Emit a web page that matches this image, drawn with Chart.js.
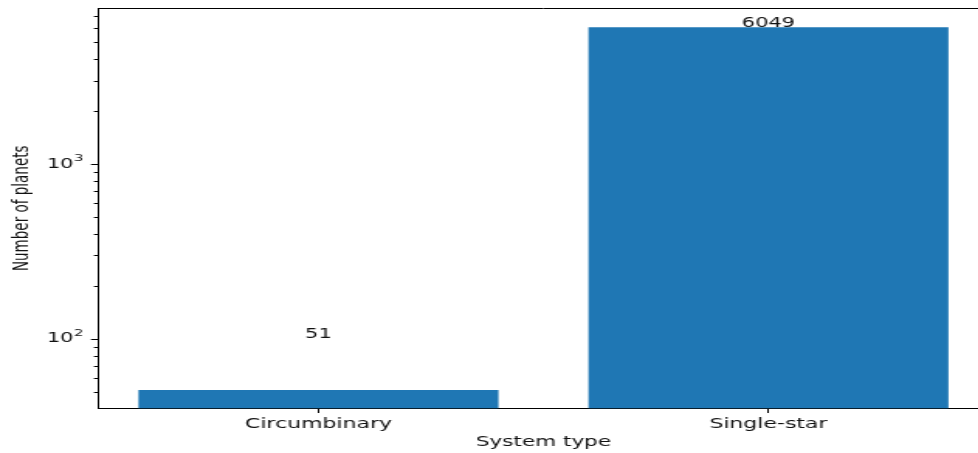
<!DOCTYPE html>
<html>
<head>
<meta charset="utf-8">
<script src="https://cdn.jsdelivr.net/npm/chart.js@4/dist/chart.umd.min.js"></script>
<style>
  html, body { margin: 0; padding: 0; background: #fff; overflow: hidden; }
  #wrap { width: 645px; height: 453px; transform: scaleX(1.55); transform-origin: 0 0; }
</style>
</head>
<body>
<div id="wrap"><canvas id="systems_chart" width="645" height="453"></canvas></div>
<script>
// planets per system type
var categories = ["Circumbinary", "Single-star"];
var planetCounts = [51, 6049];

// log axis ticks: decades get a label, the rest are minor marks
var yTickValues = [50, 60, 70, 80, 90, 100, 200, 300, 400, 500, 600, 700, 800, 900,
                   1000, 2000, 3000, 4000, 5000, 6000, 7000];
var yDecades = { 100: "2", 1000: "3" };   // value -> exponent of 10

var FAMILY = "'DejaVu Sans', sans-serif";
var FONT = { family: FAMILY, size: 13.5 };
var INK = '#111';

/////////////////////////////////////////////////////////

// log axis: tick marks (decades longer), 10^n labels, and the top spine
var axisMarks = {
  id: 'axisMarks',
  afterDraw: function(chart) {
    var ctx = chart.ctx, area = chart.chartArea, y = chart.scales.y;
    ctx.save();
    ctx.strokeStyle = '#000';
    ctx.lineWidth = 1;
    ctx.beginPath();
    y.ticks.forEach(function(t) {
      var py = Math.round(y.getPixelForValue(t.value)) + 0.5;
      var len = yDecades[t.value] ? 4.5 : 2.6;
      ctx.moveTo(area.left, py);
      ctx.lineTo(area.left - len, py);
    });
    var top = Math.round(area.top) + 0.5;
    ctx.moveTo(area.left, top);
    ctx.lineTo(area.right, top);
    ctx.stroke();

    ctx.fillStyle = INK;
    ctx.textBaseline = 'middle';
    y.ticks.forEach(function(t) {
      var exp = yDecades[t.value];
      if (!exp) return;
      var py = y.getPixelForValue(t.value);
      var right = area.left - 9.5;
      ctx.font = '9.5px ' + FAMILY;
      var expW = ctx.measureText(exp).width;
      ctx.textAlign = 'right';
      ctx.fillText(exp, right, py - 5);
      ctx.font = FONT.size + 'px ' + FAMILY;
      ctx.fillText('10', right - expW - 0.3, py);
    });
    ctx.restore();
  }
};

// counts written just above each bar
var valueLabels = {
  id: 'valueLabels',
  afterDatasetsDraw: function(chart) {
    var ctx = chart.ctx, meta = chart.getDatasetMeta(0), y = chart.scales.y;
    ctx.save();
    ctx.font = FONT.size + 'px ' + FAMILY;
    ctx.fillStyle = INK;
    ctx.textAlign = 'center';
    ctx.textBaseline = 'alphabetic';
    planetCounts.forEach(function(v, i) {
      ctx.fillText(String(v), meta.data[i].x, y.getPixelForValue(v + 50));
    });
    ctx.restore();
  }
};

// rotated y axis title
var yTitle = {
  id: 'yTitle',
  afterDraw: function(chart) {
    var ctx = chart.ctx, area = chart.chartArea;
    ctx.save();
    ctx.translate(17.6, (area.top + area.bottom) / 2);
    ctx.rotate(-Math.PI / 2);
    ctx.font = FONT.size + 'px ' + FAMILY;
    ctx.fillStyle = INK;
    ctx.textAlign = 'center';
    ctx.textBaseline = 'alphabetic';
    ctx.fillText('Number of planets', 0, 0);
    ctx.restore();
  }
};

var systemsCanvas = document.getElementById("systems_chart");

var countData = {
  label: "Number of planets",
  data: planetCounts.map(function(v, i) { return { x: i, y: v }; }),
  backgroundColor: '#1f77b4',
  borderWidth: 0,
  barPercentage: 0.8,
  categoryPercentage: 1.0
};

var chartOptions = {
  responsive: false,
  animation: false,
  layout: { padding: { top: 8, right: 7, left: 0, bottom: 0 } },
  plugins: {
    legend: { display: false },
    tooltip: { enabled: false }
  },
  scales: {
    x: {
      type: 'linear',
      min: -0.49,
      max: 1.49,
      offset: false,
      afterBuildTicks: function(scale) {
        scale.ticks = categories.map(function(c, i) { return { value: i }; });
      },
      afterFit: function(scale) { scale.height = 44.5; },
      ticks: {
        autoSkip: false,
        maxRotation: 0,
        padding: 2.5,
        color: INK,
        font: { family: FAMILY, size: 14.2 },
        callback: function(v) { return categories[v]; }
      },
      grid: {
        offset: false,
        drawOnChartArea: false,
        drawTicks: true,
        tickLength: 4.5,
        tickColor: '#000',
        color: '#000'
      },
      border: { display: true, color: '#000', width: 1 },
      title: {
        display: true,
        text: 'System type',
        color: INK,
        font: { family: FAMILY, size: 13.9 },
        padding: { top: 0, bottom: 2.5 }
      }
    },
    y: {
      type: 'logarithmic',
      min: 40,
      max: 7800,
      afterBuildTicks: function(scale) {
        scale.ticks = yTickValues.map(function(v) { return { value: v }; });
      },
      afterFit: function(scale) { scale.width = 63.2; },
      ticks: { display: false },
      grid: { display: false, drawTicks: false },
      border: { display: true, color: '#000', width: 1 }
    }
  }
};

var barChart = new Chart(systemsCanvas, {
  type: 'bar',
  data: { datasets: [countData] },
  options: chartOptions,
  plugins: [axisMarks, valueLabels, yTitle]
});
</script>
</body>
</html>
